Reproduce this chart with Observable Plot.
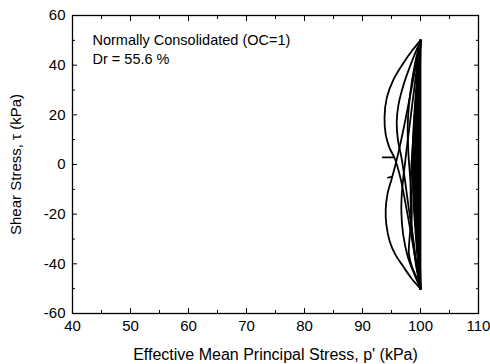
<!DOCTYPE html>
<html>
<head>
<meta charset="utf-8">
<script src="https://cdn.jsdelivr.net/npm/d3@7"></script>
<script src="https://cdn.jsdelivr.net/npm/@observablehq/plot@0.6"></script>
<style>
  html, body { margin: 0; padding: 0; background: white; }
</style>
</head>
<body>
<div id="chart"></div>
<script>
// Axis ticks
const xMajor = [40, 50, 60, 70, 80, 90, 100, 110];
const xMinor = [45, 55, 65, 75, 85, 95, 105];
const yMajor = [-60, -40, -20, 0, 20, 40, 60];
const yMinor = [-50, -30, -10, 10, 30, 50];

// Text
const xTitle = "Effective Mean Principal Stress, p' (kPa)";
const yTitle = "Shear Stress, \u03C4 (kPa)";
const noteLines = ["Normally Consolidated (OC=1)", "Dr = 55.6 %"];

// Stress path pieces: [p' (kPa), tau (kPa)]
const startTick = [[93.5, 2.9], [95.3, 2.9]];
const smallTick = [[94.4, -5.3], [95.1, -5.0]];

const outerDown = [[100, 50], [98.6, 46], [97.0, 40.7], [95.3, 34], [94.2, 27], [93.8, 19], [94.0, 12], [94.6, 7], [95.6, 2.2], [96.6, -6], [97.6, -18], [98.6, -31], [99.4, -42], [100, -50]];
const outerUp = [[100, -50], [98.5, -46], [97.0, -41], [95.6, -36], [94.7, -31], [94.1, -24], [94.0, -18], [94.3, -12], [95.0, -6], [95.7, 0], [96.5, 8], [97.4, 18], [98.4, 30], [99.3, 41], [100, 50]];
const innerDown = [[100, 50], [98.6, 42], [97.2, 33], [96.2, 24], [95.9, 17], [96.1, 10], [96.7, 3], [97.3, -6], [98.0, -18], [98.8, -31], [99.5, -43], [100, -50]];
const innerUp = [[100, -50], [98.9, -44], [97.8, -37], [97.0, -28], [96.7, -19], [96.8, -11], [97.1, -4], [97.6, 6], [98.3, 19], [99.0, 32], [99.6, 43], [100, 50]];
const midDown = [[100, 50], [99.0, 40], [98.2, 28], [97.8, 16], [97.9, 5], [98.3, -8], [98.5, -20], [98.1, -30], [98.0, -36], [98.5, -41], [99.4, -46], [100, -50]];
const midUp = [[100, -50], [99.2, -40], [98.6, -28], [98.3, -15], [98.4, -2], [98.8, 12], [99.3, 28], [99.7, 42], [100, 50]];

const band = [
  [[100, 50], [99.4, 35], [98.8, 15], [98.6, 0], [98.8, -15], [99.4, -35], [100, -50]],
  [[100, -50], [99.5, -35], [98.9, -15], [98.8, 0], [98.9, 15], [99.5, 35], [100, 50]],
  [[100, 50], [99.5, 35], [99.1, 15], [99.0, 0], [99.1, -15], [99.5, -35], [100, -50]],
  [[100, -50], [99.6, -35], [99.2, -15], [99.2, 0], [99.2, 15], [99.6, 35], [100, 50]],
  [[100, 50], [99.7, 35], [99.4, 15], [99.4, 0], [99.4, -15], [99.7, -35], [100, -50]],
  [[100, -50], [99.7, -35], [99.5, -15], [99.5, 0], [99.5, 15], [99.7, 35], [100, 50]],
  [[100, 50], [99.8, 35], [99.7, 15], [99.6, 0], [99.7, -15], [99.8, -35], [100, -50]],
  [[100, -50], [99.9, -35], [99.8, -15], [99.8, 0], [99.8, 15], [99.9, 35], [100, 50]],
  [[100, 50], [99.9, 35], [99.9, 15], [99.9, 0], [99.9, -15], [99.9, -35], [100, -50]],
  [[100, -50], [100.0, -35], [100.0, -15], [100.0, 0], [100.0, 15], [100.0, 35], [100, 50]]
];

const pieces = [startTick, smallTick, outerDown, outerUp, innerDown, innerUp, midDown, midUp, ...band];
const rows = pieces.flatMap((piece, id) => piece.map(([p, tau]) => ({id, p, tau})));

const axisStyle = {stroke: "black", strokeOpacity: 1, strokeWidth: 1};
const fmt = d => String(d);

const chart = Plot.plot({
  width: 490,
  height: 364,
  marginLeft: 72,
  marginRight: 12,
  marginTop: 15,
  marginBottom: 51,
  style: {fontFamily: "'Liberation Sans', Arial, sans-serif", fontSize: "15px", background: "white", color: "black"},
  x: {domain: [40, 110]},
  y: {domain: [-60, 60]},
  marks: [
    Plot.axisX(xMajor, {anchor: "bottom", tickSize: -5, tickPadding: 12, fontSize: 15, tickFormat: fmt, ...axisStyle,
      label: xTitle, labelAnchor: "center", labelOffset: 46, labelArrow: "none"}),
    Plot.axisX(xMinor, {anchor: "bottom", tickSize: -3, text: null, label: null, ...axisStyle}),
    Plot.axisX(xMajor, {anchor: "top", tickSize: -5, text: null, label: null, ...axisStyle}),
    Plot.axisX(xMinor, {anchor: "top", tickSize: -3, text: null, label: null, ...axisStyle}),
    Plot.axisY(yMajor, {anchor: "left", tickSize: -5, tickPadding: 12, fontSize: 15, tickFormat: fmt, ...axisStyle,
      label: yTitle, labelAnchor: "center", labelOffset: 62, labelArrow: "none"}),
    Plot.axisY(yMinor, {anchor: "left", tickSize: -3, text: null, label: null, ...axisStyle}),
    Plot.axisY(yMajor, {anchor: "right", tickSize: -5, text: null, label: null, ...axisStyle}),
    Plot.axisY(yMinor, {anchor: "right", tickSize: -3, text: null, label: null, ...axisStyle}),
    Plot.frame({stroke: "black", strokeWidth: 1.3}),
    Plot.line(rows, {x: "p", y: "tau", z: "id", curve: "catmull-rom", stroke: "black", strokeWidth: 1.8}),
    Plot.text([noteLines.join("\n")], {frameAnchor: "top-left", dx: 20, dy: 16, lineAnchor: "top", textAnchor: "start", fontSize: 14.5, lineHeight: 1.3, fill: "black"})
  ]
});

document.getElementById("chart").appendChild(chart);
// x-axis title is slightly larger in the reference
chart.querySelectorAll("[aria-label='x-axis label'] text").forEach(t => t.setAttribute("font-size", "16"));
</script>
</body>
</html>
